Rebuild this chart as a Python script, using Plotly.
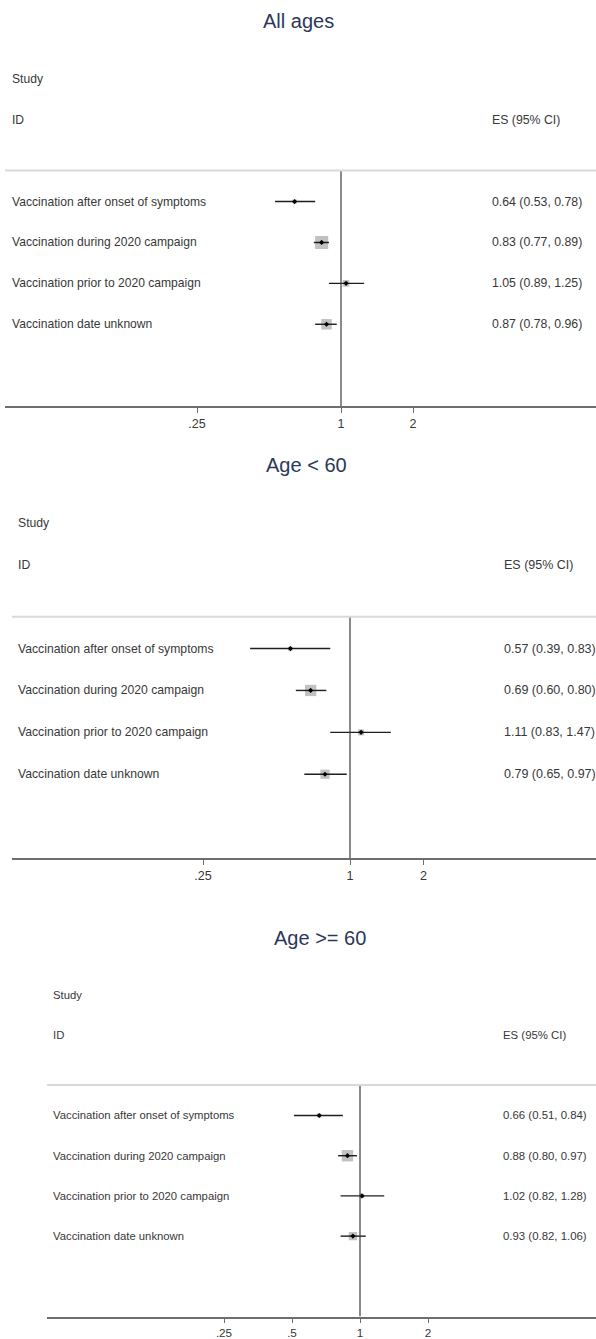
import math
import plotly.graph_objects as go

W, H = 596, 1339

# ---------------- data ----------------
categories = [
    "Vaccination after onset of symptoms",
    "Vaccination during 2020 campaign",
    "Vaccination prior to 2020 campaign",
    "Vaccination date unknown",
]
panel_titles = ["All ages", "Age < 60", "Age >= 60"]

es_all = [0.64, 0.83, 1.05, 0.87]
lo_all = [0.53, 0.77, 0.89, 0.78]
hi_all = [0.78, 0.89, 1.25, 0.96]
wt_all = [5, 50, 13, 32]

es_lt60 = [0.57, 0.69, 1.11, 0.79]
lo_lt60 = [0.39, 0.60, 0.83, 0.65]
hi_lt60 = [0.83, 0.80, 1.47, 0.97]
wt_lt60 = [5, 37, 11, 25]

es_ge60 = [0.66, 0.88, 1.02, 0.93]
lo_ge60 = [0.51, 0.80, 0.82, 0.82]
hi_ge60 = [0.84, 0.97, 1.28, 1.06]
wt_ge60 = [5, 38, 6, 20]

tickvals_a = [0.25, 1, 2]
ticktext_a = [".25", "1", "2"]
tickvals_b = [0.25, 0.5, 1, 2]
ticktext_b = [".25", ".5", "1", "2"]

header_study = "Study"
header_id = "ID"
header_es = "ES (95% CI)"

# ---------------- layout geometry (pixels) ----------------
panels = [
    dict(es=es_all, lo=lo_all, hi=hi_all, wt=wt_all, tv=tickvals_a, tt=ticktext_a,
         xl=5, x1=341, ppd=72, r0=202, s=41, labx=10, esx=490, ty=21, tcx=298,
         fs=12.1, fsv=12.3),
    dict(es=es_lt60, lo=lo_lt60, hi=hi_lt60, wt=wt_lt60, tv=tickvals_a, tt=ticktext_a,
         xl=12, x1=350, ppd=73.5, r0=650, s=42, labx=16, esx=502, ty=466, tcx=306,
         fs=12.2, fsv=12.5),
    dict(es=es_ge60, lo=lo_ge60, hi=hi_ge60, wt=wt_ge60, tv=tickvals_b, tt=ticktext_b,
         xl=47, x1=360, ppd=68, r0=1118, s=40.3, labx=51, esx=501, ty=940, tcx=320,
         fs=11.3, fsv=11.4),
]

FONT = "Liberation Sans, Arial, sans-serif"
TXT = "#383838"
TITLE_C = "#2b3859"
L2 = math.log10(2)
Y_TOP, Y_BOT, Y_SEP = -3.6, 5, -0.76

fig = go.Figure()
annotations = []
shapes = []
layout_axes = {}

for k, p in enumerate(panels):
    n = k + 1
    xa = "x" if n == 1 else f"x{n}"
    ya = "y" if n == 1 else f"y{n}"
    xkey = "xaxis" if n == 1 else f"xaxis{n}"
    ykey = "yaxis" if n == 1 else f"yaxis{n}"
    rows = list(range(len(categories)))

    # confidence intervals
    cx, cy = [], []
    for i in rows:
        cx += [p["lo"][i], p["hi"][i], None]
        cy += [i, i, None]
    # weight squares
    fig.add_trace(go.Scatter(
        x=p["es"], y=rows, mode="markers", xaxis=xa, yaxis=ya, showlegend=False,
        marker=dict(symbol="square", color="#a8a8a8",
                    size=[1.85 * math.sqrt(w) for w in p["wt"]], line=dict(width=0)),
        hoverinfo="skip"))
    fig.add_trace(go.Scatter(
        x=cx, y=cy, mode="lines", xaxis=xa, yaxis=ya, showlegend=False,
        line=dict(color="#1e1e1e", width=1.4), hoverinfo="skip"))
    fig.add_trace(go.Scatter(
        x=p["es"], y=rows, mode="markers", xaxis=xa, yaxis=ya, showlegend=False,
        marker=dict(symbol="diamond", color="#000000", size=4),
        hoverinfo="skip"))

    x_lo = L2 * (p["xl"] - p["x1"]) / p["ppd"]
    x_hi = L2 * (W - p["x1"]) / p["ppd"]
    y_bot_px = p["r0"] + Y_BOT * p["s"]
    y_top_px = p["r0"] + Y_TOP * p["s"]

    layout_axes[xkey] = dict(
        type="log", range=[x_lo, x_hi], domain=[p["xl"] / W, 1], anchor=ya,
        showgrid=False, zeroline=False, showline=True, linecolor="#6e6e6e", linewidth=1.5,
        ticks="outside", ticklen=5, tickwidth=1, tickcolor="#6e6e6e",
        tickvals=p["tv"], ticktext=p["tt"],
        tickfont=dict(family=FONT, size=p["fs"] + 0.4, color=TXT), fixedrange=True)
    layout_axes[ykey] = dict(
        range=[Y_BOT, Y_TOP], domain=[1 - y_bot_px / H, 1 - y_top_px / H], anchor=xa,
        visible=False, fixedrange=True)

    # null line at 1
    shapes.append(dict(type="line", xref=xa, yref=ya, x0=1, x1=1, y0=Y_SEP, y1=Y_BOT,
                       line=dict(color="#3c3c3c", width=1.2)))
    # separator under header
    shapes.append(dict(type="line", xref=f"{xa} domain", yref=ya, x0=0, x1=1, y0=Y_SEP, y1=Y_SEP,
                       line=dict(color="#d9d9d9", width=2)))

    fnt = dict(family=FONT, size=p["fs"], color=TXT)
    fntv = dict(family=FONT, size=p["fsv"], color=TXT)
    # headers
    annotations.append(dict(xref="paper", yref=ya, x=p["labx"] / W, y=-3, text=header_study,
                            xanchor="left", yanchor="middle", showarrow=False, font=fnt))
    annotations.append(dict(xref="paper", yref=ya, x=p["labx"] / W, y=-2, text=header_id,
                            xanchor="left", yanchor="middle", showarrow=False, font=fnt))
    annotations.append(dict(xref="paper", yref=ya, x=p["esx"] / W, y=-2, text=header_es,
                            xanchor="left", yanchor="middle", showarrow=False, font=fntv))
    for i in rows:
        annotations.append(dict(xref="paper", yref=ya, x=p["labx"] / W, y=i, text=categories[i],
                                xanchor="left", yanchor="middle", showarrow=False, font=fnt))
        annotations.append(dict(xref="paper", yref=ya, x=p["esx"] / W, y=i,
                                text=f"{p['es'][i]:.2f} ({p['lo'][i]:.2f}, {p['hi'][i]:.2f})",
                                xanchor="left", yanchor="middle", showarrow=False, font=fntv))
    # panel title
    annotations.append(dict(xref="paper", yref="paper", x=p["tcx"] / W, y=1 - p["ty"] / H,
                            text=panel_titles[k], xanchor="center", yanchor="middle",
                            showarrow=False, font=dict(family=FONT, size=20, color=TITLE_C)))

fig.update_layout(
    width=W, height=H, margin=dict(l=0, r=0, t=0, b=0),
    paper_bgcolor="white", plot_bgcolor="white",
    annotations=annotations, shapes=shapes, showlegend=False,
    **layout_axes,
)

fig.write_html("out.html", config=dict(displayModeBar=False),
               post_script="document.body.style.margin='0';document.body.style.padding='0';")
